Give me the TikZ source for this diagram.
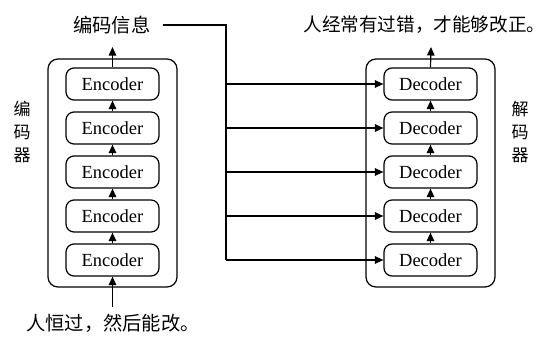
\documentclass[tikz,border=0pt]{standalone}
\usepackage{fontspec}
\setmainfont{Liberation Serif}
\newfontfamily\cjk{Noto Sans CJK SC}
\usetikzlibrary{arrows.meta}
\tikzset{
  outerbox/.style={draw, line width=1.2pt, rounded corners=10pt, minimum width=129pt, minimum height=228pt, inner sep=0pt},
  layerbox/.style={draw, line width=1.2pt, rounded corners=8pt, minimum width=93pt, minimum height=32pt, inner sep=0pt, font=\fontsize{18.5}{20}\selectfont},
  cjktext/.style={inner sep=0pt, font=\cjk\fontsize{19.3}{21}\selectfont},
  sidelabel/.style={inner sep=0pt, align=center, font=\cjk\fontsize{17}{23}\selectfont},
  conn/.style={line width=1.2pt},
  arr/.style={line width=1.2pt, -{Triangle[length=8.5pt,width=7.5pt]}}
}
\begin{document}
\begin{tikzpicture}[x=1pt,y=-1pt]
\useasboundingbox (0,0) rectangle (546,338);
% outer boxes
\node[outerbox] (encbox) at (112.5,173) {};
\node[outerbox] (decbox) at (430.5,173) {};
% layers
\foreach \i in {1,...,5}{
  \node[layerbox] (enc\i) at (112.5,{84+44*(\i-1)}) {Encoder};
  \node[layerbox] (dec\i) at (430.5,{84+44*(\i-1)}) {Decoder};
}
% texts
\node[cjktext, anchor=west] (info) at (73,25) {编码信息};
\node[cjktext, anchor=east, font=\cjk\fontsize{18.6}{21}\selectfont] (out) at (545.5,25) {人经常有过错，才能够改正。};
\node[cjktext, anchor=west] (inp) at (26,323) {人恒过，然后能改。};
\node[sidelabel] (enclab) at (22,132) {编\\码\\器};
\node[sidelabel] (declab) at (520,132) {解\\码\\器};
% coordinates
\coordinate (infoend) at (163,25);
\coordinate (jtop) at (226,25);
\coordinate (jbot) at (226,260);
\coordinate (encout) at (112.5,47);
\coordinate (decout) at (431,47);
\coordinate (encin) at (112.5,307);
% connectors
\draw[conn] (infoend) -- (jtop) -- (jbot);
\foreach \i in {1,...,5}{
  \draw[arr] (jtop |- dec\i.west) -- (dec\i.west);
}
\foreach \a/\b in {2/1,3/2,4/3,5/4}{
  \draw[arr] (enc\a.north) -- (enc\b.south);
  \draw[arr] (dec\a.north) -- (dec\b.south);
}
\draw[arr] (enc1.north) -- (encout);
\draw[arr] (dec1.north) -- (decout);
\draw[arr] (encin) -- (enc5.south);
\end{tikzpicture}
\end{document}
